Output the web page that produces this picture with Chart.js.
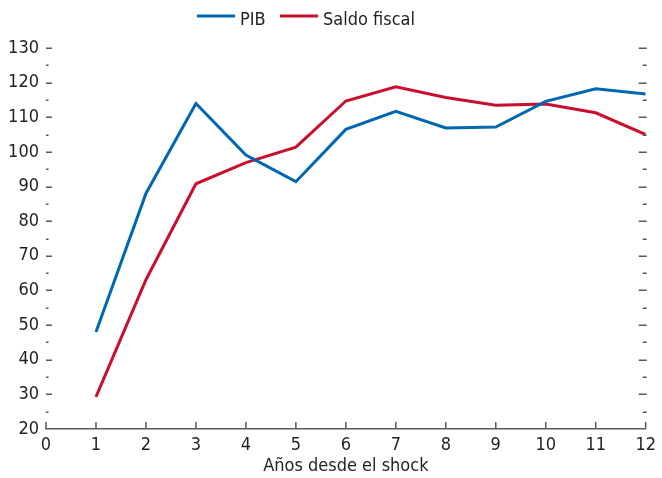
<!DOCTYPE html>
<html>
<head>
<meta charset="utf-8">
<script src="https://cdn.jsdelivr.net/npm/chart.js@4/dist/chart.umd.min.js"></script>
<style>
    html, body { margin: 0; padding: 0; background: #fff; }
    #wrap { width: 662px; height: 478px; position: relative; }
</style>
</head>
<body>
<div id="wrap"><canvas id="chart"></canvas></div>
<script>
// Años desde el shock
const years = [1, 2, 3, 4, 5, 6, 7, 8, 9, 10, 11, 12];
const pib = [48.0, 88.0, 114.0, 99.1, 91.4, 106.5, 111.7, 106.9, 107.2, 114.6, 118.2, 116.7];
const saldoFiscal = [29.3, 63.1, 90.8, 96.9, 101.4, 114.7, 118.8, 115.7, 113.5, 113.8, 111.3, 105.0];
const seriesNames = ["PIB", "Saldo fiscal"];
const xTitle = "Años desde el shock";

const FONT = '"Liberation Sans Narrow", "Arial Narrow", "DejaVu Sans Condensed", sans-serif';
const FONT_SIZE = 18;
const TEXT = '#231f20';
const AXIS = '#58595b';
const BLUE = '#0067b1';
const RED = '#c8102e';

/**
 * Draws inward tick marks on both y edges and upward ticks on the x axis,
 * plus the legend above the plot
 */
const tickAndLegend = {
    id: 'tickAndLegend',
    afterDraw(chart) {
        const ctx = chart.ctx;
        const area = chart.chartArea;
        const x = chart.scales.x;
        const y = chart.scales.y;

        ctx.save();
        ctx.strokeStyle = AXIS;
        ctx.lineWidth = 1.5;
        ctx.beginPath();
        for (let v = 25; v <= 130; v += 5) {
            let py = Math.round(y.getPixelForValue(v)) + 0.25;
            let len = v % 10 == 0 ? 6 : 2.5;
            ctx.moveTo(area.left, py);
            ctx.lineTo(area.left + len, py);
            ctx.moveTo(area.right + 1, py);
            ctx.lineTo(area.right + 1 - (v % 10 == 0 ? 8 : 4), py);
        }
        for (let v = 0; v <= 12; v++) {
            let px = x.getPixelForValue(v);
            ctx.moveTo(px, area.bottom);
            ctx.lineTo(px, area.bottom - 7);
        }
        ctx.stroke();

        // legend
        let legendX = [197, 280];
        let legendW = 38;
        chart.data.datasets.forEach(function (ds, i) {
            ctx.strokeStyle = ds.borderColor;
            ctx.lineWidth = 3;
            ctx.beginPath();
            ctx.moveTo(legendX[i], 16);
            ctx.lineTo(legendX[i] + legendW, 16);
            ctx.stroke();
            ctx.fillStyle = TEXT;
            ctx.font = FONT_SIZE + 'px ' + FONT;
            ctx.textBaseline = 'middle';
            ctx.textAlign = 'left';
            ctx.fillText(ds.label, legendX[i] + legendW + 5, 20);
        });
        ctx.restore();
    }
};

const data = {
    datasets: [
        {
            label: seriesNames[0],
            data: years.map((yr, i) => ({ x: yr, y: pib[i] })),
            borderColor: BLUE,
            borderWidth: 3,
            pointRadius: 0,
            tension: 0,
            fill: false
        },
        {
            label: seriesNames[1],
            data: years.map((yr, i) => ({ x: yr, y: saldoFiscal[i] })),
            borderColor: RED,
            borderWidth: 3,
            pointRadius: 0,
            tension: 0,
            fill: false
        }
    ]
};

const config = {
    type: 'line',
    data: data,
    options: {
        responsive: true,
        maintainAspectRatio: false,
        animation: false,
        layout: {
            padding: { top: 48, right: 11, left: 0, bottom: 0 }
        },
        plugins: {
            legend: { display: false },
            tooltip: { enabled: false }
        },
        scales: {
            x: {
                type: 'linear',
                min: 0,
                max: 12,
                afterFit: function (scale) { scale.height = 49; },
                grid: { display: false, drawTicks: false },
                border: { display: true, color: AXIS, width: 1.5 },
                ticks: {
                    stepSize: 1,
                    padding: 6,
                    color: TEXT,
                    font: { family: FONT, size: FONT_SIZE }
                },
                title: {
                    display: true,
                    text: xTitle,
                    color: TEXT,
                    padding: { top: 0, bottom: 1 },
                    font: { family: FONT, size: FONT_SIZE }
                }
            },
            y: {
                min: 20,
                max: 130,
                afterFit: function (scale) { scale.width = 46; },
                grid: { display: false, drawTicks: false },
                border: { display: false },
                ticks: {
                    stepSize: 10,
                    padding: 7,
                    color: TEXT,
                    font: { family: FONT, size: FONT_SIZE }
                }
            }
        }
    },
    plugins: [tickAndLegend]
};

new Chart(document.getElementById("chart"), config);
</script>
</body>
</html>
